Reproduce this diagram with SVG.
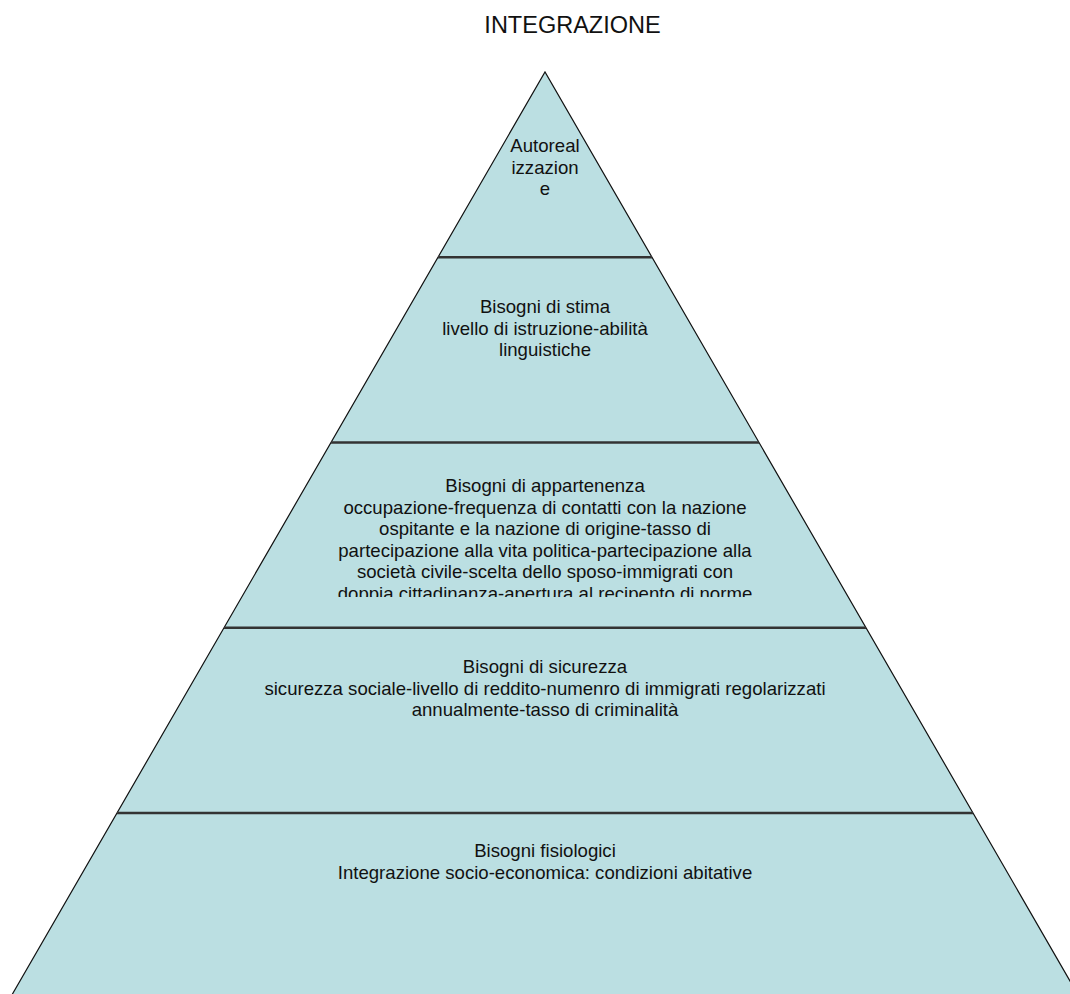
<svg xmlns="http://www.w3.org/2000/svg" width="1070" height="994" viewBox="0 0 1070 994">
  <style>
    .tier { fill: #BBDFE2; stroke: none; }
    .lbl { font-family: "Liberation Sans", Arial, sans-serif; font-size: 18.6px; fill: #111; text-anchor: middle; }
    .title { font-family: "Liberation Sans", Arial, sans-serif; font-size: 23.5px; fill: #111; text-anchor: middle; }
    .edge { fill: none; stroke: #111; stroke-width: 1.2; }
    .sep { stroke: #333; stroke-width: 2.5; }
  </style>
  <defs>
    <clipPath id="clip3">
      <rect x="224" y="443" width="642" height="154"/>
    </clipPath>
  </defs>
  <rect x="0" y="0" width="1070" height="994" fill="#ffffff"/>
  <text id="title" class="title" x="572.5" y="33">INTEGRAZIONE</text>

  <g id="tier1">
    <polygon class="tier" points="545,72 652,257.25 438,257.25"/>
    <text class="lbl"><tspan x="545" y="152">Autoreal</tspan><tspan x="545" y="173.5">izzazion</tspan><tspan x="545" y="195">e</tspan></text>
  </g>
  <g id="tier2">
    <polygon class="tier" points="438,257.25 652,257.25 759,442.5 331,442.5"/>
    <text class="lbl"><tspan x="545" y="313">Bisogni di stima</tspan><tspan x="545" y="334.5">livello di istruzione-abilità</tspan><tspan x="545" y="356">linguistiche</tspan></text>
  </g>
  <g id="tier3">
    <polygon class="tier" points="331,442.5 759,442.5 866,627.75 224,627.75"/>
    <g clip-path="url(#clip3)">
      <text class="lbl"><tspan x="545" y="492">Bisogni di appartenenza</tspan><tspan x="545" y="513.5">occupazione-frequenza di contatti con la nazione</tspan><tspan x="545" y="535">ospitante e la nazione di origine-tasso di</tspan><tspan x="545" y="556.5">partecipazione alla vita politica-partecipazione alla</tspan><tspan x="545" y="578">società civile-scelta dello sposo-immigrati con</tspan><tspan x="545" y="599.5">doppia cittadinanza-apertura al recipento di norme</tspan></text>
    </g>
  </g>
  <g id="tier4">
    <polygon class="tier" points="224,627.75 866,627.75 973,813 117,813"/>
    <text class="lbl"><tspan x="545" y="673">Bisogni di sicurezza</tspan><tspan x="545" y="694.5">sicurezza sociale-livello di reddito-numenro di immigrati regolarizzati</tspan><tspan x="545" y="716">annualmente-tasso di criminalità</tspan></text>
  </g>
  <g id="tier5">
    <polygon class="tier" points="117,813 973,813 1080,998.25 10,998.25"/>
    <text class="lbl"><tspan x="545" y="857">Bisogni fisiologici</tspan><tspan x="545" y="878.5">Integrazione socio-economica: condizioni abitative</tspan></text>
  </g>

  <g id="connectors">
    <polyline class="edge" points="10,998.25 545,72 1080,998.25"/>
    <line class="sep" x1="438" y1="257.25" x2="652" y2="257.25"/>
    <line class="sep" x1="331" y1="442.5" x2="759" y2="442.5"/>
    <line class="sep" x1="224" y1="627.75" x2="866" y2="627.75"/>
    <line class="sep" x1="117" y1="813" x2="973" y2="813"/>
  </g>
</svg>
